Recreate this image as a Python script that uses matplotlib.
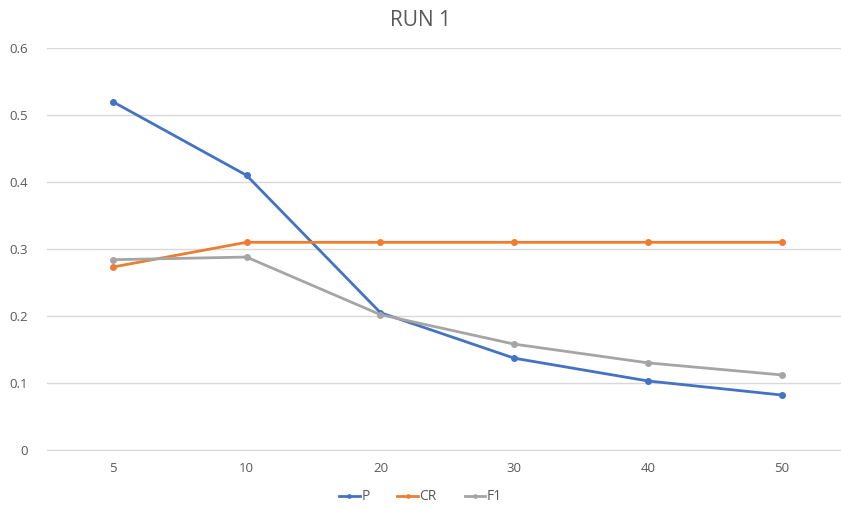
import matplotlib.pyplot as plt

# data
categories = ["5", "10", "20", "30", "40", "50"]
p_vals = [0.52, 0.41, 0.205, 0.137, 0.103, 0.082]
cr_vals = [0.273, 0.31, 0.31, 0.31, 0.31, 0.31]
f1_vals = [0.284, 0.288, 0.202, 0.158, 0.130, 0.112]
y_ticks = [0, 0.1, 0.2, 0.3, 0.4, 0.5, 0.6]
y_labels = ["0", "0.1", "0.2", "0.3", "0.4", "0.5", "0.6"]

plt.rcParams['font.family'] = ['Open Sans', 'DejaVu Sans']
text_col = "#595959"

fig = plt.figure(figsize=(8.41, 5.08), dpi=100)
ax = fig.add_axes([47 / 841, 1 - 450 / 508, 1 - 47 / 841, (450 - 48) / 508])

x = list(range(len(categories)))
series = [("P", p_vals, "#4472C4"), ("CR", cr_vals, "#ED7D31"), ("F1", f1_vals, "#A5A5A5")]
for name, vals, col in series:
    ax.plot(x, vals, color=col, lw=2, marker="o", ms=4, label=name, zorder=3)

ax.set_xlim(-0.49, 5.44)
ax.set_ylim(0, 0.6)
ax.set_xticks(x)
ax.set_xticklabels(categories)
ax.set_yticks(y_ticks)
ax.set_yticklabels(y_labels)
ax.tick_params(length=0, colors=text_col, labelsize=9.5)
ax.tick_params(axis="x", pad=9)
ax.tick_params(axis="y", pad=14)
ax.grid(axis="y", color="#D9D9D9", lw=1)
ax.set_axisbelow(True)
for s in ["top", "right", "left"]:
    ax.spines[s].set_visible(False)
ax.spines["bottom"].set_color("#D9D9D9")

fig.text(0.5, 1 - 20 / 508, "RUN 1", ha="center", va="center", fontsize=15, color=text_col)
fig.legend(loc="center", bbox_to_anchor=(0.5, 1 - 497 / 508), ncol=3, frameon=False,
           fontsize=10, labelcolor=text_col, handlelength=1.5, columnspacing=2.0,
           handletextpad=0.1, markerscale=0.6)

fig.savefig("out.png", dpi=100)
